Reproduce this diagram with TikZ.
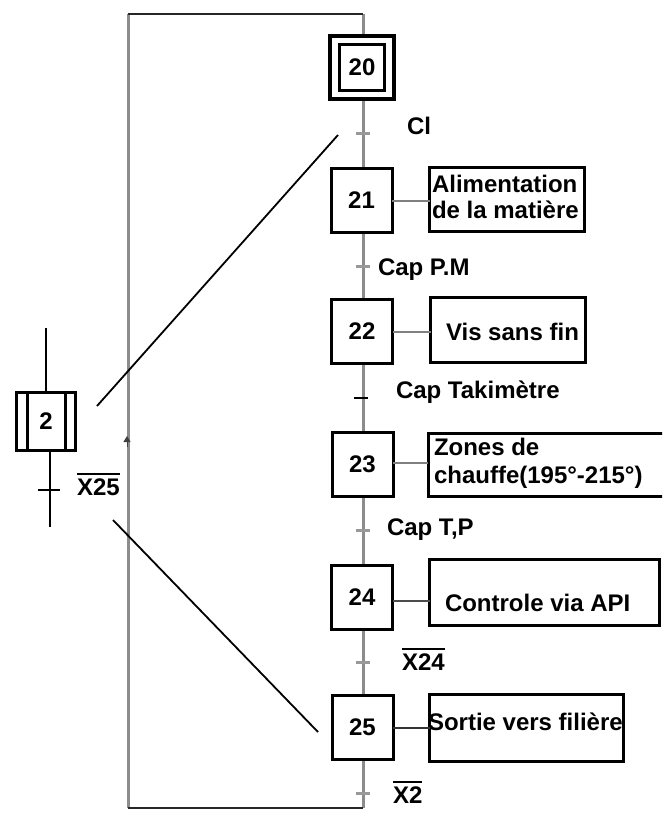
\documentclass[tikz,border=0pt]{standalone}
\usepackage{fontspec}
\setmainfont{Liberation Sans}
\usetikzlibrary{arrows.meta}
\newcommand\ovl[1]{\vbox{\hrule height 1.8pt\kern 3.5pt\hbox{#1}}}
\begin{document}
\begin{tikzpicture}[x=1pt,y=-1pt,
  every node/.style={font=\fontsize{24}{27}\selectfont\bfseries, inner sep=0pt, outer sep=0pt},
  stepbox/.style={draw, line width=3pt, fill=white, minimum width=61pt, minimum height=64pt},
  actbox/.style={draw, line width=3pt, fill=white},
  spine/.style={line width=3pt, black!45},
  frame/.style={line width=2.5pt, black!85},
  link/.style={line width=2.5pt, black!50},
  tick/.style={line width=3pt, black!40},
  diag/.style={line width=1.8pt, black},
  lbl/.style={anchor=base west}]
\clip (0,0) rectangle (662,814);
\fill[white] (0,0) rectangle (662,814);
% frame of the macro-step return
\coordinate (tl) at (128,14);
\coordinate (tr) at (363,14);
\coordinate (bl) at (128,808);
\coordinate (br) at (363,808);
\draw[spine] (tr) -- (br);
\draw[spine] (tl) -- (bl);
\draw[frame] (tl) -- (tr);
\draw[frame] (bl) -- (br);
\coordinate (arra) at (127,447);
\coordinate (arrb) at (127,436);
\draw[black!75, line width=1pt, -{Triangle[length=6pt,width=7pt]}] (arra) -- (arrb);
% transitions
\foreach \y/\n in {133/c1, 266/c2, 530/c4, 662/c5, 793/c6}{
  \coordinate (\n) at (363,\y);
  \draw[tick] ([xshift=-7pt]\n) -- ([xshift=7pt]\n);
}
\coordinate (c3) at (362,398);
\draw[line width=2.5pt, black] ([xshift=-8pt]c3) -- ([xshift=6pt]c3);
% steps
\node[draw, line width=4pt, fill=white, minimum width=64pt, minimum height=63pt] (s20o) at (362,67.5) {};
\node[draw, line width=3pt, minimum width=45pt, minimum height=46pt] (s20) at (s20o.center) {20};
\node[stepbox] (s21) at (361.5,200) {21};
\node[stepbox] (s22) at (362,331) {22};
\node[stepbox] (s23) at (362.5,464.5) {23};
\node[stepbox] (s24) at (362,597) {24};
\node[stepbox] (s25) at (362.5,727.5) {25};
% actions
\node[actbox, minimum width=155pt, minimum height=64pt] (a21) at (507,199.5) {};
\node[actbox, minimum width=155pt, minimum height=65pt] (a22) at (508,330) {};
\node[actbox, minimum width=240pt, minimum height=63pt] (a23) at (548,465) {};
\node[actbox, minimum width=230pt, minimum height=66pt] (a24) at (544.5,592.5) {};
\node[actbox, minimum width=194pt, minimum height=67pt] (a25) at (526.5,728) {};
\node[lbl] (t21a) at (432,192) {Alimentation};
\node[lbl] (t21b) at (432,218) {de la matière};
\node[lbl] (t22) at (446,340) {Vis sans fin};
\node[lbl] (t23a) at (434,455) {Zones de};
\node[lbl] (t23b) at (434,483) {chauffe(195°-215°)};
\node[lbl] (t24) at (445,611) {Controle via API};
\node[lbl] (t25) at (428,730) {Sortie vers filière};
% step-action links
\draw[link] (s21.east |- 0,201) -- (a21.west |- 0,201);
\draw[link] (s22.east |- 0,332) -- (a22.west |- 0,332);
\draw[link] (s23.east |- 0,463) -- (a23.west |- 0,463);
\draw[link, black!70] (s24.east |- 0,601) -- (a24.west |- 0,601);
\draw[link, black!80, line width=2pt] (s25.east |- 0,728) -- (a25.west |- 0,728);
% transition labels
\node[lbl] (l1) at (407,134) {Cl};
\node[lbl] (l2) at (378,275) {Cap P.M};
\node[lbl] (l3) at (396,398) {Cap Takimètre};
\node[lbl] (l4) at (387,535) {Cap T,P};
\node[lbl] (l5) at (402,670) {\ovl{X24}};
\node[lbl] (l6) at (393,803) {\ovl{X2}};
% macro-step 2
\node[stepbox, minimum width=59pt, minimum height=58pt] (s2) at (46,421.5) {2};
\draw[line width=2.5pt] ([xshift=11pt]s2.north west) -- ([xshift=11pt]s2.south west);
\draw[line width=2.5pt] ([xshift=-10pt]s2.north east) -- ([xshift=-10pt]s2.south east);
\coordinate (s2top) at (46,328);
\coordinate (s2bot) at (50,527);
\coordinate (c0) at (50,490);
\draw[line width=2pt] (s2top) -- (s2.north);
\draw[line width=2pt] (s2.south -| s2bot) -- (s2bot);
\draw[line width=2pt] ([xshift=-12pt]c0) -- ([xshift=10pt]c0);
\node[lbl] (l0) at (77,495) {\ovl{X25}};
% expansion lines
\coordinate (d1a) at (97,406);
\coordinate (d1b) at (338,135);
\coordinate (d2a) at (113,520);
\coordinate (d2b) at (318,732);
\draw[diag] (d1a) -- (d1b);
\draw[diag] (d2a) -- (d2b);
\end{tikzpicture}
\end{document}
